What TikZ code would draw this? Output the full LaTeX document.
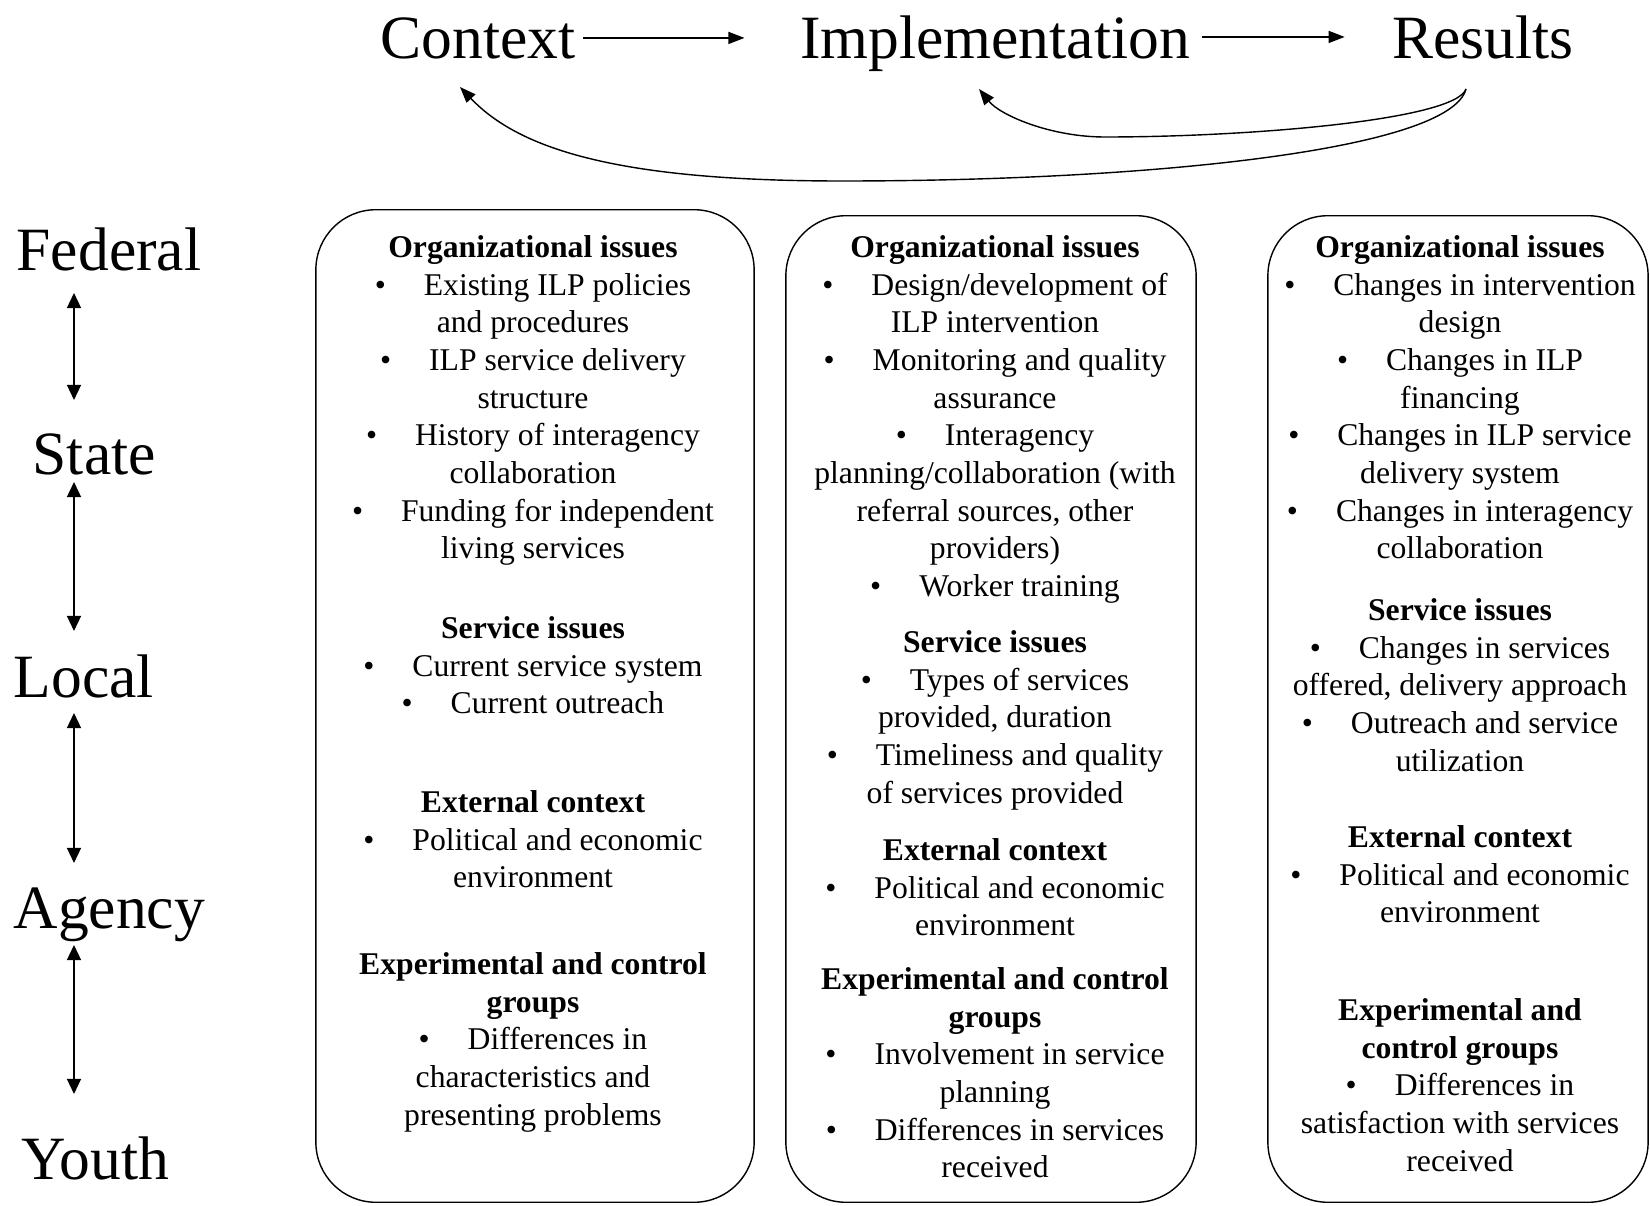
\documentclass[tikz,border=0pt]{standalone}
\usepackage{fontspec}
\setmainfont{Liberation Serif}
\usetikzlibrary{arrows.meta}
\newcommand{\bul}{\textbullet\hspace{1.2em}}
\begin{document}
\begin{tikzpicture}[x=0.01cm, y=-0.01cm,
    big/.style={font=\fontsize{17.5}{20}\selectfont, inner sep=0pt},
    panel/.style={draw, rounded corners=0.6cm},
    sec/.style={font=\fontsize{9}{10.7}\selectfont, align=center, inner sep=0pt, anchor=north},
    arr/.style={-{Triangle[length=1.6mm, width=1.2mm]}},
    updown/.style={{Triangle[length=1.5mm, width=1.4mm]}-{Triangle[length=1.5mm, width=1.4mm]}}]
\useasboundingbox (0,0) rectangle (1650,1206);
% top row
\node(Context) [big, anchor=base] at (478,58) {Context};
\node(Implementation) [big, anchor=base] at (995,58) {Implementation};
\node(Results) [big, anchor=base] at (1483,58) {Results};
\draw[arr, shorten <=0.07cm, shorten >=0.55cm] (Context.east) -- (Context.east -| Implementation.west);
\draw[arr, shorten <=0.11cm, shorten >=0.47cm] (Results.west -| Implementation.east) -- (Results.west);
\coordinate(feedback) at (1466,89);
\coordinate(implin) at (979,89);
\coordinate(ctxin) at (460,87);
\draw[arr] (feedback) .. controls (1455,120) and (1250,137) .. (1105,137)
    .. controls (1050,137) and (1000,115) .. (implin);
\draw[arr] (feedback) .. controls (1450,150) and (1150,181) .. (842,181)
    .. controls (620,181) and (520,150) .. (ctxin);
% levels
\node(Federal) [big, anchor=base west] at (16,271) {Federal};
\node(State) [big, anchor=base west] at (32,474) {State};
\node(Local) [big, anchor=base west] at (13,697) {Local};
\node(Agency) [big, anchor=base west] at (13,928) {Agency};
\node(Youth) [big, anchor=base west] at (21,1179) {Youth};
\coordinate(axis) at (74,0);
\draw[updown, shorten <=0.22cm, shorten >=0.74cm] (Federal.base -| axis) -- (State.base -| axis);
\draw[updown, shorten <=0.08cm, shorten >=0.66cm] (State.base -| axis) -- (Local.base -| axis);
\draw[updown, shorten <=0.16cm, shorten >=0.65cm] (Local.base -| axis) -- (Agency.base -| axis);
\draw[updown, shorten <=0.17cm, shorten >=0.85cm] (Agency.base -| axis) -- (Youth.base -| axis);
% panels
\node(ctxbox) [panel, minimum width=4.38cm, minimum height=9.92cm] at (535,706) {};
\node(impbox) [panel, minimum width=4.10cm, minimum height=9.86cm] at (991,709) {};
\node(resbox) [panel, minimum width=3.80cm, minimum height=9.86cm] at (1458,709) {};
% context panel
\node(ctxorg) [sec] at (533,235) {\textbf{Organizational issues}\\ \bul Existing ILP policies\\ and procedures\\
    \bul ILP service delivery\\ structure\\ \bul History of interagency\\ collaboration\\
    \bul Funding for independent\\ living services};
\node(ctxsrv) [sec] at (533,616) {\textbf{Service issues}\\ \bul Current service system\\ \bul Current outreach};
\node(ctxext) [sec] at (533,790) {\textbf{External context}\\ \bul Political and economic\\ environment};
\node(ctxgrp) [sec] at (533,952) {\textbf{Experimental and control}\\ \textbf{groups}\\ \bul Differences in\\
    characteristics and\\ presenting problems};
% implementation panel
\node(imporg) [sec] at (995,235) {\textbf{Organizational issues}\\ \bul Design/development of\\ ILP intervention\\
    \bul Monitoring and quality\\ assurance\\ \bul Interagency\\ planning/collaboration (with\\
    referral sources, other\\ providers)\\ \bul Worker training};
\node(impsrv) [sec] at (995,630) {\textbf{Service issues}\\ \bul Types of services\\ provided, duration\\
    \bul Timeliness and quality\\ of services provided};
\node(impext) [sec] at (995,838) {\textbf{External context}\\ \bul Political and economic\\ environment};
\node(impgrp) [sec] at (995,967) {\textbf{Experimental and control}\\ \textbf{groups}\\ \bul Involvement in service\\
    planning\\ \bul Differences in services\\ received};
% results panel
\node(resorg) [sec] at (1460,235) {\textbf{Organizational issues}\\ \bul Changes in intervention\\ design\\
    \bul Changes in ILP\\ financing\\ \bul Changes in ILP service\\ delivery system\\
    \bul Changes in interagency\\ collaboration};
\node(ressrv) [sec] at (1460,598) {\textbf{Service issues}\\ \bul Changes in services\\ offered, delivery approach\\
    \bul Outreach and service\\ utilization};
\node(resext) [sec] at (1460,825) {\textbf{External context}\\ \bul Political and economic\\ environment};
\node(resgrp) [sec] at (1460,998) {\textbf{Experimental and}\\ \textbf{control groups}\\ \bul Differences in\\
    satisfaction with services\\ received};
\end{tikzpicture}
\end{document}
